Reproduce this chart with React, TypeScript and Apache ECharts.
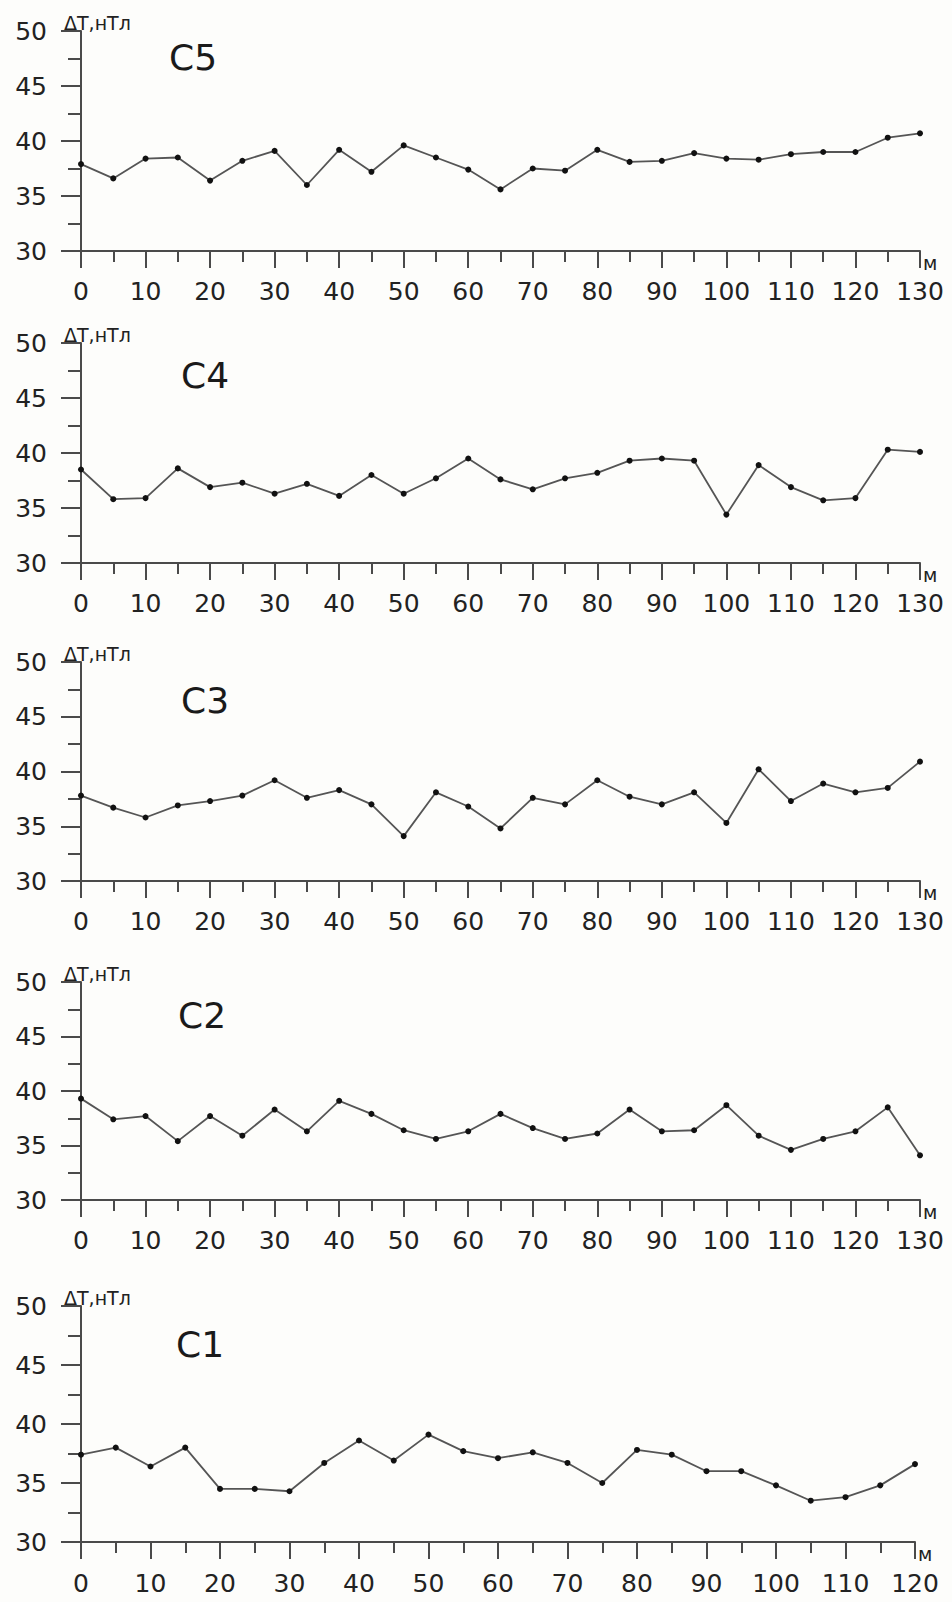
import React, { useEffect, useRef } from "react";
import * as echarts from "echarts";

// Profile distances (m)
const distances130 = [0, 5, 10, 15, 20, 25, 30, 35, 40, 45, 50, 55, 60, 65, 70, 75, 80, 85, 90, 95, 100, 105, 110, 115, 120, 125, 130];
const distances120 = [0, 5, 10, 15, 20, 25, 30, 35, 40, 45, 50, 55, 60, 65, 70, 75, 80, 85, 90, 95, 100, 105, 110, 115, 120];

// ΔT, nT values per profile
const c5 = [37.9, 36.6, 38.4, 38.5, 36.4, 38.2, 39.1, 36.0, 39.2, 37.2, 39.6, 38.5, 37.4, 35.6, 37.5, 37.3, 39.2, 38.1, 38.2, 38.9, 38.4, 38.3, 38.8, 39.0, 39.0, 40.3, 40.7];
const c4 = [38.5, 35.8, 35.9, 38.6, 36.9, 37.3, 36.3, 37.2, 36.1, 38.0, 36.3, 37.7, 39.5, 37.6, 36.7, 37.7, 38.2, 39.3, 39.5, 39.3, 34.4, 38.9, 36.9, 35.7, 35.9, 40.3, 40.1];
const c3 = [37.8, 36.7, 35.8, 36.9, 37.3, 37.8, 39.2, 37.6, 38.3, 37.0, 34.1, 38.1, 36.8, 34.8, 37.6, 37.0, 39.2, 37.7, 37.0, 38.1, 35.3, 40.2, 37.3, 38.9, 38.1, 38.5, 40.9];
const c2 = [39.3, 37.4, 37.7, 35.4, 37.7, 35.9, 38.3, 36.3, 39.1, 37.9, 36.4, 35.6, 36.3, 37.9, 36.6, 35.6, 36.1, 38.3, 36.3, 36.4, 38.7, 35.9, 34.6, 35.6, 36.3, 38.5, 34.1];
const c1 = [37.4, 38.0, 36.4, 38.0, 34.5, 34.5, 34.3, 36.7, 38.6, 36.9, 39.1, 37.7, 37.1, 37.6, 36.7, 35.0, 37.8, 37.4, 36.0, 36.0, 34.8, 33.5, 33.8, 34.8, 36.6];

const profileNames = ["C5", "C4", "C3", "C2", "C1"];
const profileValues = [c5, c4, c3, c2, c1];
const profileDistances = [distances130, distances130, distances130, distances130, distances120];
const profileMaxX = [130, 130, 130, 130, 120];

const yMin = 30;
const yMax = 50;
const yInterval = 5;
const xInterval = 10;
const yAxisName = "ΔT,нТл";
const xAxisName = "м";

// layout (px)
const panels = [
  { top: 31, height: 220, left: 81, width: 839, labelLeft: 169, labelTop: 39, xMargin: 28 },
  { top: 343, height: 220, left: 81, width: 839, labelLeft: 181, labelTop: 357, xMargin: 28 },
  { top: 662, height: 219, left: 81, width: 839, labelLeft: 181, labelTop: 682, xMargin: 28 },
  { top: 982, height: 218, left: 81, width: 839, labelLeft: 178, labelTop: 997, xMargin: 28 },
  { top: 1306, height: 236, left: 81, width: 834, labelLeft: 176, labelTop: 1326, xMargin: 29 },
];

const FONT = "DejaVu Sans";
const AXIS_COLOR = "#4a4a4a";
const TEXT_COLOR = "#222";

export default function App() {
  const ref = useRef<HTMLDivElement>(null);

  useEffect(() => {
    if (!ref.current) return;
    const chart = echarts.init(ref.current, undefined, { renderer: "svg" });

    const grids: any[] = [];
    const xAxes: any[] = [];
    const yAxes: any[] = [];
    const series: any[] = [];
    const titles: any[] = [];

    panels.forEach((p, i) => {
      grids.push({ left: p.left, top: p.top, width: p.width, height: p.height, containLabel: false });
      xAxes.push({
        type: "value",
        gridIndex: i,
        min: 0,
        max: profileMaxX[i],
        interval: xInterval,
        name: xAxisName,
        nameLocation: "end",
        nameGap: 3,
        nameTextStyle: { fontFamily: FONT, fontSize: 19, color: TEXT_COLOR, verticalAlign: "top", padding: [2, 0, 0, 0] },
        axisLine: { show: true, lineStyle: { color: AXIS_COLOR, width: 2 } },
        axisTick: { show: true, length: 17, lineStyle: { color: AXIS_COLOR, width: 2 } },
        minorTick: { show: true, splitNumber: 2, length: 11, lineStyle: { color: AXIS_COLOR, width: 2 } },
        splitLine: { show: false },
        minorSplitLine: { show: false },
        axisLabel: { fontFamily: FONT, fontSize: 25, color: TEXT_COLOR, margin: p.xMargin, showMinLabel: true, showMaxLabel: true },
      });
      yAxes.push({
        type: "value",
        gridIndex: i,
        min: yMin,
        max: yMax,
        interval: yInterval,
        axisLine: { show: true, lineStyle: { color: AXIS_COLOR, width: 2 } },
        axisTick: { show: true, length: 20, lineStyle: { color: AXIS_COLOR, width: 2 } },
        minorTick: { show: true, splitNumber: 2, length: 13, lineStyle: { color: AXIS_COLOR, width: 2 } },
        splitLine: { show: false },
        minorSplitLine: { show: false },
        axisLabel: { fontFamily: FONT, fontSize: 25, color: TEXT_COLOR, margin: 34 },
      });
      const dist = profileDistances[i];
      const vals = profileValues[i];
      series.push({
        name: profileNames[i],
        type: "line",
        xAxisIndex: i,
        yAxisIndex: i,
        data: dist.map((d, k) => [d, vals[k]]),
        symbol: "circle",
        symbolSize: 6,
        showSymbol: true,
        itemStyle: { color: "#111" },
        lineStyle: { color: "#555", width: 1.8 },
        smooth: false,
      });
      titles.push({
        text: profileNames[i],
        left: p.labelLeft,
        top: p.labelTop,
        padding: 0,
        textStyle: { fontFamily: FONT, fontSize: 36, fontWeight: "normal", color: "#1a1a1a" },
      });
      titles.push({
        text: yAxisName,
        left: 64,
        top: p.top - 18,
        padding: 0,
        textStyle: { fontFamily: FONT, fontSize: 19, fontWeight: "normal", color: TEXT_COLOR },
      });
    });

    chart.setOption({
      animation: false,
      backgroundColor: "#fdfdfb",
      title: titles,
      grid: grids,
      xAxis: xAxes,
      yAxis: yAxes,
      series,
    });

    return () => {
      chart.dispose();
    };
  }, []);

  return (
    <div
      ref={ref}
      style={{ position: "absolute", left: 0, top: 0, width: 952, height: 1602 }}
    />
  );
}
